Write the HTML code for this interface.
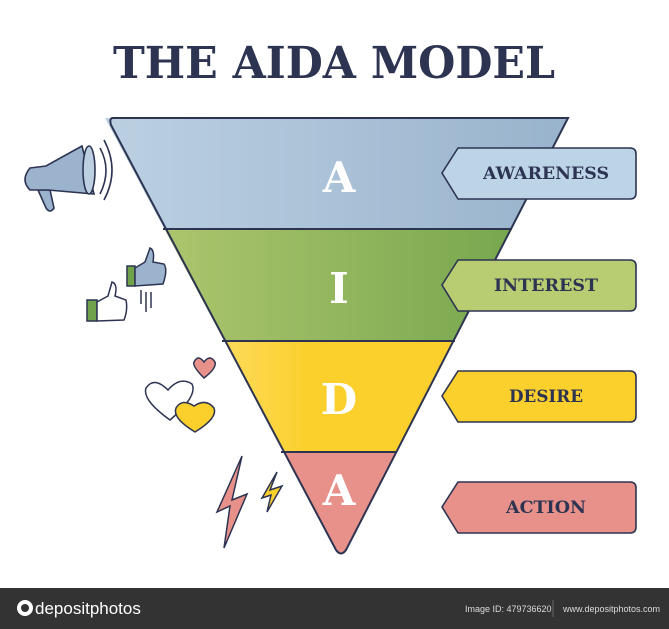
<!DOCTYPE html>
<html><head><meta charset="utf-8"><style>
html,body{margin:0;padding:0;background:#fff;}
svg{display:block}
</style></head><body>
<svg width="669" height="629" viewBox="0 0 669 629" xmlns="http://www.w3.org/2000/svg">
<defs>
<linearGradient id="gb" x1="0" x2="1"><stop offset="0" stop-color="#bcd0e2"/><stop offset="1" stop-color="#98b3cc"/></linearGradient>
<linearGradient id="gg" x1="0" x2="1"><stop offset="0" stop-color="#b6cb72"/><stop offset="1" stop-color="#6fa24a"/></linearGradient>
<linearGradient id="gy" x1="0" x2="1"><stop offset="0" stop-color="#fde99a"/><stop offset="0.45" stop-color="#fbd02c"/><stop offset="1" stop-color="#fbd02c"/></linearGradient>
<clipPath id="fc"><path d="M105,118 L568,118 L346,550 Q341,557 336,550 Z"/></clipPath>
</defs>
<rect width="669" height="629" fill="#fff"/>
<text x="334" y="78" text-anchor="middle" font-family="DejaVu Serif, serif" font-weight="bold" font-size="44" fill="#2d3452" textLength="442" lengthAdjust="spacingAndGlyphs">THE AIDA MODEL</text>

<g clip-path="url(#fc)">
<rect x="100" y="118" width="470" height="111" fill="url(#gb)"/>
<rect x="100" y="229" width="470" height="112" fill="url(#gg)"/>
<rect x="100" y="341" width="470" height="111" fill="url(#gy)"/>
<rect x="100" y="452" width="470" height="110" fill="#e8918a"/>
</g>
<path d="M113,118 L568,118 L346,550 Q341,557 336,550 L111,125 Q109,118 113,118 Z" fill="none" stroke="#2d3452" stroke-width="2"/>
<g stroke="#2d3452" stroke-width="2">
<line x1="163" y1="229" x2="512" y2="229"/>
<line x1="222" y1="341" x2="455" y2="341"/>
<line x1="281" y1="452" x2="397" y2="452"/>
</g>
<g font-family="DejaVu Serif, serif" font-weight="bold" font-size="42" fill="#fff" text-anchor="middle">
<text x="339" y="192">A</text>
<text x="339" y="303">I</text>
<text x="339" y="414">D</text>
<text x="339" y="505">A</text>
</g>

<g stroke="#2d3452" stroke-width="1.6" font-family="DejaVu Serif, serif" font-weight="bold" font-size="17" text-anchor="middle">
<path d="M458,148 L630,148 Q636,148 636,154 L636,193 Q636,199 630,199 L458,199 L442,173 Z" fill="#bcd4e6"/>
<text x="546" y="179" fill="#2d3452" stroke="none" textLength="126" lengthAdjust="spacingAndGlyphs">AWARENESS</text>
<path d="M458,260 L630,260 Q636,260 636,266 L636,305 Q636,311 630,311 L458,311 L442,285 Z" fill="#b8cd72"/>
<text x="546" y="291" fill="#2d3452" stroke="none" textLength="104" lengthAdjust="spacingAndGlyphs">INTEREST</text>
<path d="M458,371 L630,371 Q636,371 636,377 L636,416 Q636,422 630,422 L458,422 L442,396 Z" fill="#fbd02c"/>
<text x="546" y="402" fill="#2d3452" stroke="none" textLength="74" lengthAdjust="spacingAndGlyphs">DESIRE</text>
<path d="M458,482 L630,482 Q636,482 636,488 L636,527 Q636,533 630,533 L458,533 L442,507 Z" fill="#e8918a"/>
<text x="546" y="513" fill="#2d3452" stroke="none" textLength="80" lengthAdjust="spacingAndGlyphs">ACTION</text>
</g>

<!-- megaphone -->
<g stroke="#2d3452" stroke-width="1.6" fill="#9bb3cc">
<path d="M38,190 L46,208 Q50,214 54,208 L50,190 Z"/>
<path d="M30,168 L46,166 L82,146 L94,194 L48,190 L30,190 Q20,180 30,168 Z"/>
<ellipse cx="89" cy="170" rx="6" ry="24" fill="#bcd0e2"/>
<path d="M100,148 Q112,170 100,194" fill="none"/>
<path d="M104,140 Q120,170 104,200" fill="none"/>
</g>
<!-- thumbs -->
<g stroke="#2d3452" stroke-width="1.5">
<rect x="127" y="266" width="8" height="20" fill="#6fa24a"/>
<path d="M135,268 L145,262 L150,248 Q155,250 153,262 L164,264 Q168,270 163,284 L135,286 Z" fill="#9bb3cc"/>
<rect x="87" y="300" width="10" height="21" fill="#6fa24a"/>
<path d="M97,302 L108,296 L112,282 Q118,284 115,296 L126,300 Q128,310 124,320 L97,321 Z" fill="#fff"/>
<line x1="141" y1="290" x2="141" y2="304" fill="none"/><line x1="146" y1="292" x2="146" y2="312" fill="none"/><line x1="151" y1="292" x2="151" y2="308" fill="none"/>
</g>
<!-- hearts -->
<g stroke="#2d3452" stroke-width="1.5">
<path d="M204,378 Q192,366 194,362 Q198,354 204,362 Q210,354 215,362 Q217,368 204,378 Z" fill="#e8918a"/>
<path d="M170,420 Q142,400 146,388 Q154,376 168,390 Q180,376 192,384 Q198,396 170,420 Z" fill="#fff"/>
<path d="M195,432 Q172,418 176,408 Q182,398 194,406 Q206,398 214,408 Q218,418 195,432 Z" fill="#fbd02c"/>
</g>
<!-- bolts -->
<g stroke="#2d3452" stroke-width="1.5" stroke-linejoin="miter">
<path d="M240,456 L230,500 L245,494 L222,548 L228,506 L215,512 Z" fill="#e8918a" transform="translate(2,0)"/>
<path d="M277,472 L270,490 L282,486 L267,512 L271,495 L262,498 Z" fill="#fbd02c"/>
</g>

<!-- footer -->
<rect x="0" y="588" width="669" height="41" fill="#333"/>
<circle cx="25" cy="608" r="8" fill="#fff"/><circle cx="25" cy="608" r="4" fill="#333"/>
<text x="35" y="614" font-family="Liberation Sans, sans-serif" font-size="17" fill="#fff">depositphotos</text>
<text x="465" y="612" font-family="Liberation Sans, sans-serif" font-size="9" fill="#ddd">Image ID: 479736620</text>
<line x1="553" y1="600" x2="553" y2="617" stroke="#666"/>
<text x="563" y="612" font-family="Liberation Sans, sans-serif" font-size="9" fill="#ddd">www.depositphotos.com</text>
</svg>
</body></html>
